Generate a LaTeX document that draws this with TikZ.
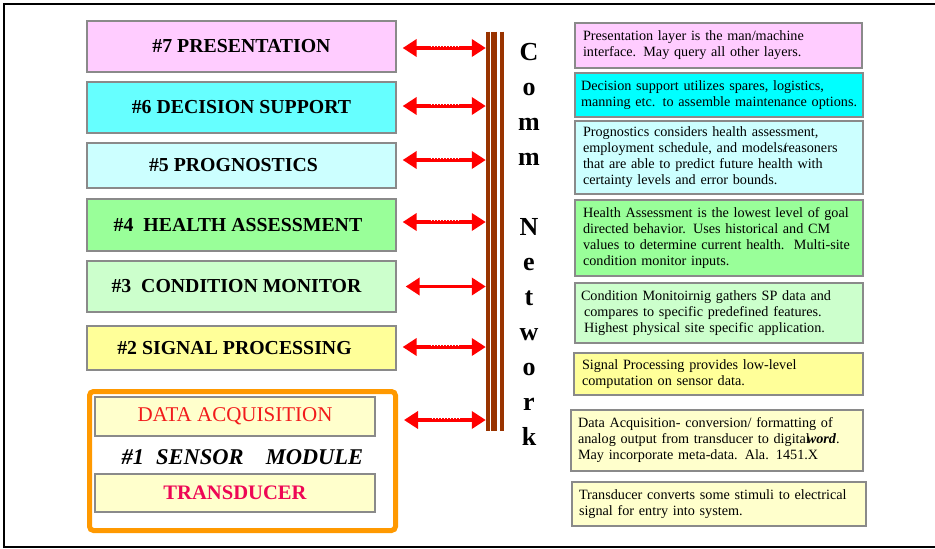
\documentclass[tikz,border=0pt]{standalone}
\usepackage{fontspec}
\setmainfont{Liberation Serif}
\usetikzlibrary{arrows.meta,calc}

\definecolor{pinkfill}{HTML}{FFCCFF}
\definecolor{cyanleft}{HTML}{66FFFF}
\definecolor{cyanright}{HTML}{00FFFF}
\definecolor{paleblue}{HTML}{CCFFFF}
\definecolor{midgreen}{HTML}{99FF99}
\definecolor{palegreen}{HTML}{CCFFCC}
\definecolor{midyellow}{HTML}{FFFF99}
\definecolor{paleyellow}{HTML}{FFFFCC}
\definecolor{modorange}{HTML}{FF9900}
\definecolor{busbrown}{HTML}{993300}
\definecolor{acqred}{HTML}{F21B1B}
\definecolor{transred}{HTML}{EE0755}
\definecolor{boxedge}{HTML}{8A8A8A}

\tikzset{
  layer/.style={draw=boxedge, line width=1.3pt, minimum width=309pt, inner sep=0pt,
    font=\fontsize{19.8}{23}\selectfont\bfseries},
  note/.style={draw=boxedge, line width=1.1pt, align=left, inner xsep=8pt, inner ysep=0pt,
    font=\fontsize{14.2}{16}\selectfont},
  subbox/.style={draw=boxedge, line width=1.1pt, fill=paleyellow, minimum width=280pt,
    inner sep=0pt, font=\fontsize{21}{24}\selectfont},
  commletter/.style={anchor=base, inner sep=0pt, font=\fontsize{26}{30}\selectfont\bfseries},
  busline/.style={draw=busbrown},
  link/.style={draw=red, line width=3.6pt,
    {Triangle[length=14pt,width=17pt]}-{Triangle[length=14pt,width=17pt]},
    shorten <=6pt},
  dots/.style={postaction={draw=white, -, line width=0.9pt, dash pattern=on 1.2pt off 1.8pt,
    shorten <=34pt, shorten >=26pt, transform canvas={yshift=1.3pt}}}
}

\begin{document}
\begin{tikzpicture}[x=1pt,y=-1pt]
\useasboundingbox (0,0) rectangle (935,549);

% outer frame
\draw[line width=2pt] (935,4) -- (4,4) -- (4,547) -- (935,547);

% layer stack (trailing space nudges some titles slightly left of centre)
\node[layer, fill=pinkfill,  minimum height=51pt] (l7) at (241.5,46.5)  {\#7 PRESENTATION};
\node[layer, fill=cyanleft,  minimum height=51pt] (l6) at (241.5,107.5) {\#6 DECISION SUPPORT};
\node[layer, fill=paleblue,  minimum height=45pt] (l5) at (241.5,165.5) {\#5 PROGNOSTICS\hspace*{16pt}};
\node[layer, fill=midgreen,  minimum height=52pt] (l4) at (241.5,225)   {\#4\ \ HEALTH ASSESSMENT\hspace*{7pt}};
\node[layer, fill=palegreen, minimum height=51pt] (l3) at (241.5,286.5) {\#3\ \ CONDITION MONITOR\hspace*{10pt}};
\node[layer, fill=midyellow, minimum height=44pt] (l2) at (241.5,348)   {\#2 SIGNAL PROCESSING\hspace*{14pt}};

% sensor module
\node[draw=modorange, line width=5pt, rounded corners=4pt, minimum width=306pt,
      minimum height=139pt, inner sep=0pt] (sm) at (242.5,461) {};
\node[subbox, minimum height=39pt, text=acqred] (da) at (235,416.5) {DATA ACQUISITION};
\node[subbox, minimum height=38pt, text=transred, font=\fontsize{20.6}{24}\selectfont\bfseries]
      (td) at (235,493) {TRANSDUCER};
\node[inner sep=0pt, font=\fontsize{22.5}{26}\selectfont\bfseries\itshape] (smlabel)
      at (242.5,457) {\#1\hspace{12pt}SENSOR\hspace{22pt}MODULE};

% communication bus
\node[minimum width=17.3pt, minimum height=399pt, inner sep=0pt] (bus) at (494.65,231.2) {};
\draw[busline, line width=4pt]   ([xshift=2pt]bus.north west)   -- ([xshift=2pt]bus.south west);
\draw[busline, line width=6pt]   ([xshift=8.3pt]bus.north west) -- ([xshift=8.3pt]bus.south west);
\draw[busline, line width=3.3pt] ([xshift=-1.65pt]bus.north east) -- ([xshift=-1.65pt]bus.south east);

\foreach \ch/\i in {C/0,o/1,m/2,m/3,N/5,e/6,t/7,w/8,o/9,r/10,k/11}
  \node[commletter] (cn\i) at ({529},{60+35*\i}) {\ch};

% links from each layer to the bus
\draw[link, dots] ([yshift=-1.5pt]l7.east) -- ([yshift=-1.5pt]l7.east -| bus.west);
\draw[link, dots] ([yshift=1.5pt]l6.east)  -- ([yshift=1.5pt]l6.east -| bus.west);
\draw[link, dots] ([yshift=5.5pt]l5.east)  -- ([yshift=5.5pt]l5.east -| bus.west);
\draw[link, dots] ([yshift=3pt]l4.east)    -- ([yshift=3pt]l4.east -| bus.west);
\draw[link, shorten <=9pt] (l3.east) -- (l3.east -| bus.west);
\draw[link, dots] ([yshift=1pt]l2.east)    -- ([yshift=1pt]l2.east -| bus.west);
\draw[link, dots] ([yshift=-3.5pt]sm.east |- da.east) -- ([yshift=-3.5pt]da.east -| bus.west);

% descriptions
\node[note, fill=pinkfill, text width=271pt, minimum height=45pt] (r7) at (718.5,45.5)
  {Presentation layer is the man/machine\\interface. May query all other layers.};
\node[note, fill=cyanright, text width=276pt, inner xsep=6pt, minimum height=44pt] (r6) at (719,95)
  {Decision support utilizes spares, logistics,\\\mbox{manning etc. to assemble maintenance options.}};
\node[note, fill=paleblue, text width=272pt, minimum height=73pt] (r5) at (719,157.5)
  {Prognostics considers health assessment,\\\mbox{employment schedule, and models/\kern-3pt reasoners}\\that are able to predict future health with\\certainty levels and error bounds.};
\node[note, fill=midgreen, text width=272pt, minimum height=76pt] (r4) at (719,238)
  {\mbox{Health Assessment is the lowest level of goal}\\directed behavior. Uses historical and CM\\\mbox{values to determine current health.\ \ Multi-site}\\condition monitor inputs.};
\node[note, fill=palegreen, text width=276pt, minimum height=60pt, inner xsep=6pt] (r3) at (719,313)
  {Condition Monitoirnig gathers SP data and\\\mbox{\hspace*{3pt}compares to specific predefined features.}\\\mbox{\hspace*{3pt}Highest physical site specific application.}};
\node[note, fill=midyellow, text width=273pt, minimum height=42pt] (r2) at (718.5,374)
  {Signal Processing provides low-level\\computation on sensor data.};
\node[note, fill=paleyellow, text width=278pt, minimum height=61pt, inner xsep=7pt] (r1a) at (717,440.5)
  {\mbox{Data Acquisition- conversion/ formatting of}\\\mbox{analog output from transducer to digital\kern-3pt\textbf{\textit{word}}.}\\May incorporate meta-data. Ala. 1451.X};
\node[note, fill=paleyellow, text width=280pt, minimum height=44pt, inner xsep=7pt] (r1b) at (719,504)
  {\mbox{Transducer converts some stimuli to electrical}\\signal for entry into system.};
\end{tikzpicture}
\end{document}
